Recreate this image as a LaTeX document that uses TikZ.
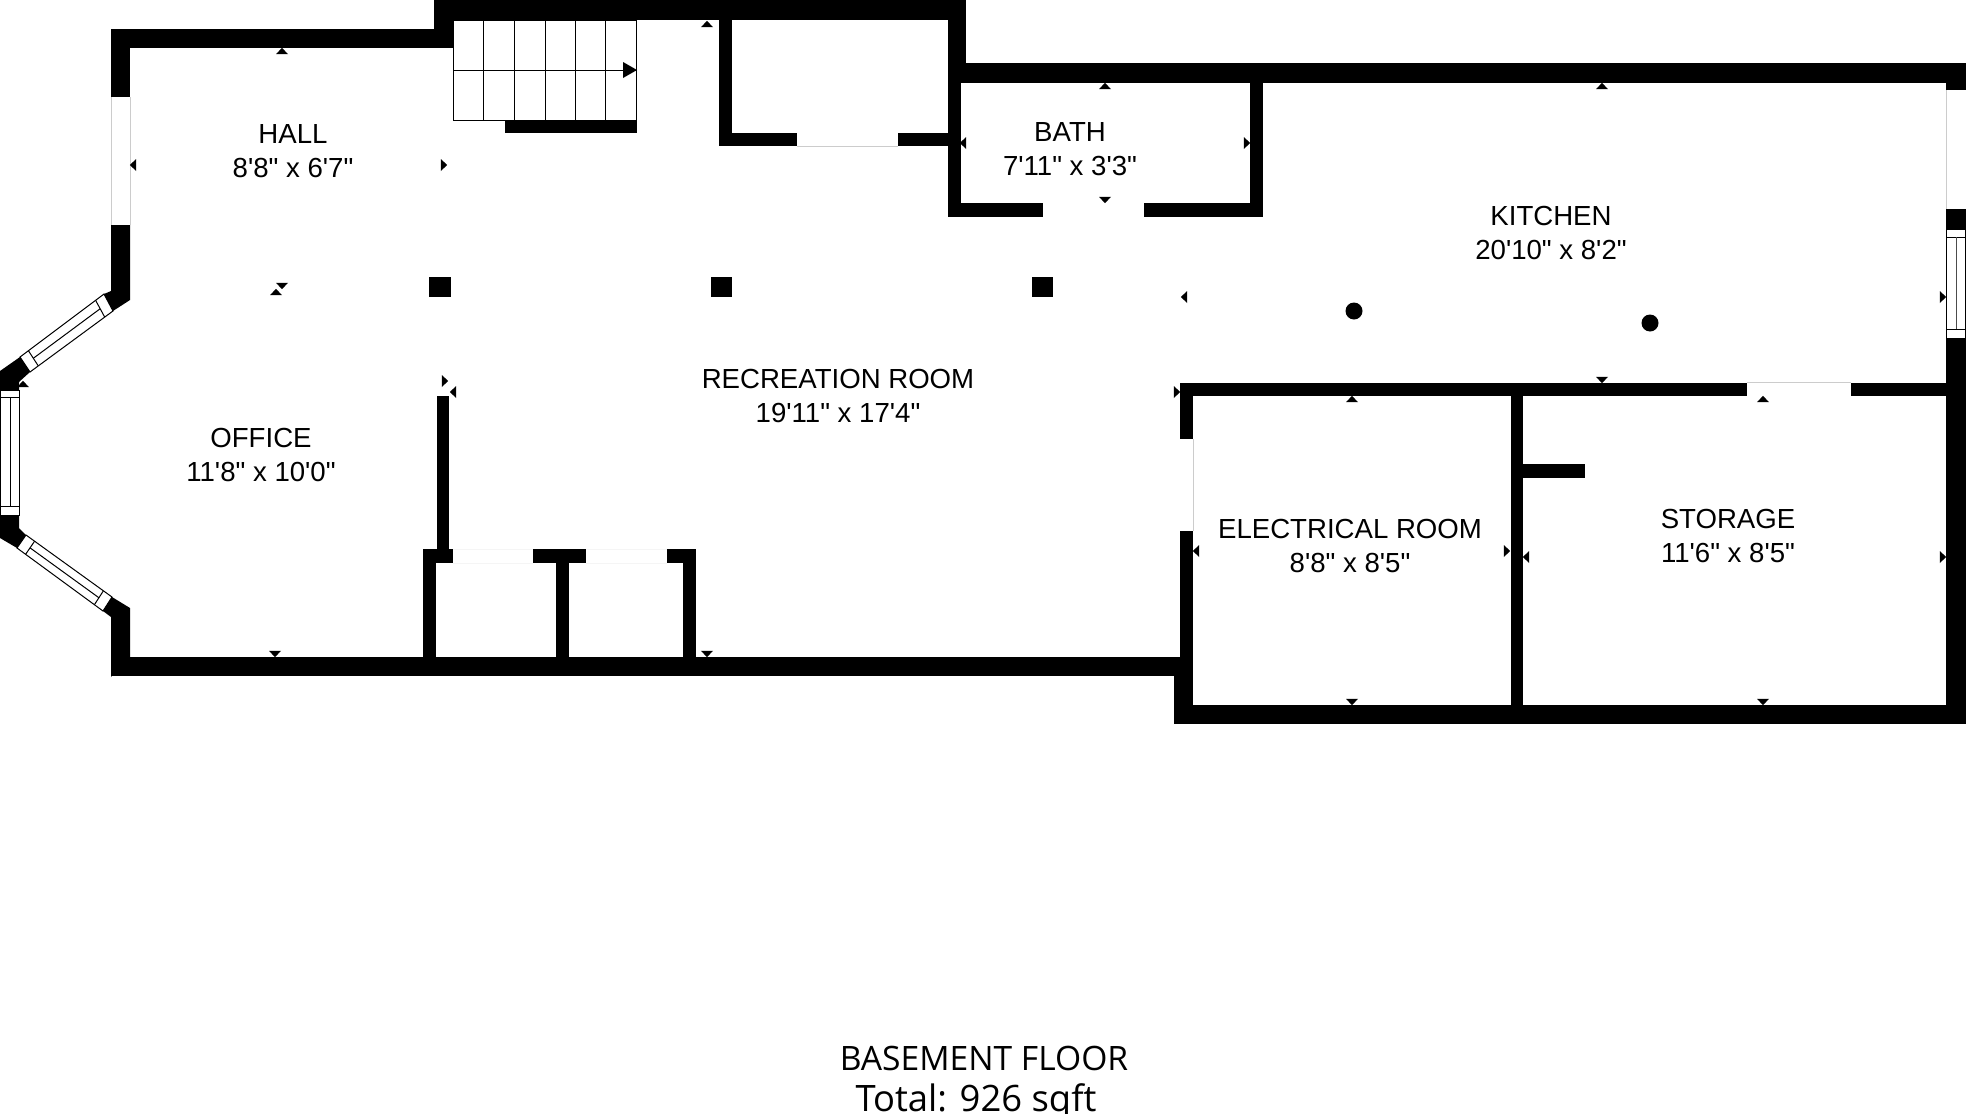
\documentclass[tikz,border=0pt]{standalone}
\usepackage{fontspec}
\newfontfamily\roomfont{Liberation Sans}
\newfontfamily\titlefont{Open Sans}
\tikzstyle{wall} = [fill=black]
\tikzstyle{opening} = [draw=black!20, line width=0.5pt]
\tikzstyle{thinline} = [draw=black, line width=0.5pt]
\tikzstyle{room} = [text=black, align=center, font=\roomfont\fontsize{13.8}{17}\selectfont, inner sep=0pt]
\tikzstyle{title} = [text=black, anchor=base, inner sep=0pt]
\tikzset{
	tickup/.pic={\fill (-6,3.2)--(6,3.2)--(0,-3.2)--cycle;},
	tickdown/.pic={\fill (-6,-3.2)--(6,-3.2)--(0,3.2)--cycle;},
	tickleft/.pic={\fill (3.2,-6)--(3.2,6)--(-3.2,0)--cycle;},
	tickright/.pic={\fill (-3.2,-6)--(-3.2,6)--(3.2,0)--cycle;}
}
\begin{document}
\begin{tikzpicture}[x=0.5pt,y=-0.5pt]
		\useasboundingbox (0,0) rectangle (1966,1114);
		% Outer walls, top
		\fill[wall] (111,29) rectangle (453,48);
		\fill[wall] (434,0) rectangle (966,20);
		\fill[wall] (434,20) rectangle (453,48);
		\fill[wall] (948,20) rectangle (966,83);
		\fill[wall] (966,63) rectangle (1966,83);
		% Outer walls, left
		\fill[wall] (111,29) rectangle (130,97);
		\fill[wall] (111,225) rectangle (130,291);
		\fill[wall] (111,225) -- (130,225) -- (130,300) -- (113,311) -- (104,294) -- (111,291) -- cycle;
		\fill[wall] (0,371) -- (20,357) -- (30,372) -- (19,382) -- (19,390) -- (0,390) -- cycle;
		\fill[wall] (0,515) -- (19,515) -- (19,528) -- (26,535) -- (17,548) -- (0,538) -- cycle;
		\fill[wall] (112,597) -- (130,608) -- (130,657) -- (111,677) -- (111,617) -- (103,611) -- cycle;
		% Outer walls, bottom and right
		\fill[wall] (111,657) rectangle (1193,676);
		\fill[wall] (111,617) rectangle (130,676);
		\fill[wall] (1174,657) rectangle (1193,724);
		\fill[wall] (1174,705) rectangle (1966,724);
		\fill[wall] (1946,338) rectangle (1966,724);
		\fill[wall] (1946,63) rectangle (1966,90);
		\fill[wall] (1946,209) rectangle (1966,229);
		% Stairs
		\fill[wall] (505,120) rectangle (637,133);
		\draw[thinline] (453.5,20) rectangle (636.5,120);
		\draw[thinline] (453.5,70) -- (636.5,70);
		\draw[thinline] (483.5,20) -- (483.5,120);
		\draw[thinline] (514,20) -- (514,120);
		\draw[thinline] (545,20) -- (545,120);
		\draw[thinline] (575,20) -- (575,120);
		\draw[thinline] (605.5,20) -- (605.5,120);
		\fill[wall] (623,62) -- (637,70) -- (623,78) -- cycle;
		% Closet next to the stairs
		\fill[wall] (718.5,20) rectangle (732,146);
		\fill[wall] (718.5,133) rectangle (797,146);
		\fill[wall] (898,133) rectangle (948,146);
		\draw[opening] (797,146) -- (898,146);
		% Bath
		\fill[wall] (948,83) rectangle (961,217);
		\fill[wall] (948,203) rectangle (1043,217);
		\fill[wall] (1144,203) rectangle (1263,217);
		\fill[wall] (1250,83) rectangle (1263,217);
		% Kitchen wall and rooms below it
		\fill[wall] (1180,383) rectangle (1747,396);
		\fill[wall] (1851,383) rectangle (1946,396);
		\fill[wall] (1180,396) rectangle (1193,439);
		\fill[wall] (1180,531) rectangle (1193,657);
		\fill[wall] (1511,396) rectangle (1523,705);
		\fill[wall] (1523,464) rectangle (1585,478);
		\draw[opening] (1747,382.5) -- (1851,382.5);
		\draw[opening] (1193,439) -- (1193,531);
		% Office partition and closets
		\fill[wall] (437,396) rectangle (449,549);
		\fill[wall] (423,549) rectangle (453,563);
		\fill[wall] (533,549) rectangle (586,563);
		\fill[wall] (667,549) rectangle (696,563);
		\fill[wall] (423,549) rectangle (436,657);
		\fill[wall] (556,549) rectangle (569,657);
		\fill[wall] (683,549) rectangle (696,657);
		\draw[opening, draw=black!4] (453,549) -- (533,549);
		\draw[opening, draw=black!4] (453,563) -- (533,563);
		\draw[opening, draw=black!4] (586,549) -- (667,549);
		\draw[opening, draw=black!4] (586,563) -- (667,563);
		% Openings in outer walls
		\draw[opening] (111,97) -- (111,225);
		\draw[opening] (130,97) -- (130,225);
		\draw[opening] (1946,90) -- (1946,209);
		% Windows
		\draw[thinline] (1946.5,229) rectangle (1965.5,338);
		\draw[thinline] (1946.5,237) -- (1965.5,237);
		\draw[thinline] (1946.5,329) -- (1965.5,329);
		\draw[thinline, draw=black!70] (1956,237) -- (1956,329);
		\draw[thinline] (0.5,390) rectangle (19,515);
		\draw[thinline] (0.5,397) -- (19,397);
		\draw[thinline] (0.5,506) -- (19,506);
		\draw[thinline] (10,397) -- (10,506);
		\draw[thinline] (104,294) -- (113,311) -- (30,372) -- (20,357) -- cycle;
		\draw[thinline] (95.6,300.3) -- (104.7,317.1);
		\draw[thinline] (28.4,350.7) -- (38.3,365.9);
		\draw[thinline] (100.2,308.7) -- (33.3,358.3);
		\draw[thinline] (26,535) -- (17,548) -- (103,611) -- (112,597) -- cycle;
		\draw[thinline] (34.6,541.2) -- (25.6,554.3);
		\draw[thinline] (103.4,590.8) -- (94.4,604.7);
		\draw[thinline] (30,547.8) -- (99,597.8);
		% Columns
		\fill[wall] (429,277) rectangle (451,297);
		\fill[wall] (711,277) rectangle (732,297);
		\fill[wall] (1032,277) rectangle (1053,297);
		\fill[wall] (1354,311) circle (8.5);
		\fill[wall] (1650,323) circle (8.5);
		% Dimension ticks
		\pic at (282,51) {tickup};
		\pic at (133,165) {tickleft};
		\pic at (444,165) {tickright};
		\pic at (282,286) {tickdown};
		\pic at (276,292) {tickup};
		\pic at (23,384) {tickup};
		\pic at (445,381) {tickright};
		\pic at (453,392) {tickleft};
		\pic at (275,654) {tickdown};
		\pic at (707,24) {tickup};
		\pic at (707,654) {tickdown};
		\pic at (963,143) {tickleft};
		\pic at (1105,86) {tickup};
		\pic at (1247,143) {tickright};
		\pic at (1105,200) {tickdown};
		\pic at (1602,86) {tickup};
		\pic at (1184,297) {tickleft};
		\pic at (1943,297) {tickright};
		\pic at (1602,380) {tickdown};
		\pic at (1177,392) {tickright};
		\pic at (1352,399) {tickup};
		\pic at (1352,702) {tickdown};
		\pic at (1196,551) {tickleft};
		\pic at (1507,551) {tickright};
		\pic at (1526,557) {tickleft};
		\pic at (1763,399) {tickup};
		\pic at (1763,702) {tickdown};
		\pic at (1943,557) {tickright};
		% Room labels
		\node[room] (hall) at (293,151) {HALL\\8'8" x 6'7"};
		\node[room] (bath) at (1070,149) {BATH\\7'11" x 3'3"};
		\node[room] (kitchen) at (1551,233) {KITCHEN\\20'10" x 8'2"};
		\node[room] (recroom) at (838,396) {RECREATION ROOM\\19'11" x 17'4"};
		\node[room] (office) at (261,455) {OFFICE\\11'8" x 10'0"};
		\node[room] (electrical) at (1350,546) {ELECTRICAL ROOM\\8'8" x 8'5"};
		\node[room] (storage) at (1728,536) {STORAGE\\11'6" x 8'5"};
		% Floor title
		\node[title, font=\titlefont\fontsize{16.8}{20}\selectfont] (floorname) at (984,1070) {BASEMENT FLOOR};
		\node[title, font=\titlefont\fontsize{18.2}{20}\selectfont] (floorarea) at (976,1111) {Total: 926 sqft};
		\end{tikzpicture}
\end{document}
